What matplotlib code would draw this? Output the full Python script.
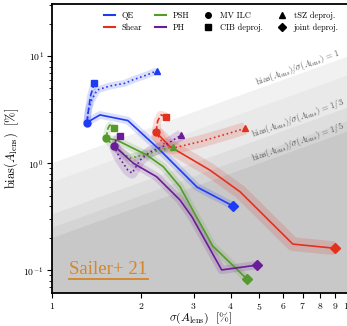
import matplotlib
matplotlib.use("Agg")
import matplotlib.pyplot as plt
from matplotlib.lines import Line2D
from matplotlib.ticker import NullLocator
import numpy as np

plt.rcParams['mathtext.fontset'] = 'cm'
plt.rcParams['font.family'] = 'serif'
plt.rcParams['font.serif'] = ['cmr10', 'DejaVu Serif']
plt.rcParams['axes.formatter.use_mathtext'] = True

# colours of the four estimators
c_qe = '#1f3cf5'
c_shear = '#e2321f'
c_psh = '#559a2c'
c_ph = '#6b1c98'

# QE: solid = MV ILC -> joint deproj., dashed = CIB deproj., dotted = tSZ deproj.
qe_x = [1.31, 1.45, 1.80, 2.31, 3.08, 4.07]
qe_y = [2.40, 2.83, 2.51, 1.33, 0.60, 0.40]
qe_cib_x = [1.31, 1.33, 1.35, 1.39]
qe_cib_y = [2.40, 3.29, 4.35, 5.59]
qe_tsz_x = [1.31, 1.325, 1.36, 1.42, 1.57, 1.76, 1.87, 2.09, 2.25]
qe_tsz_y = [2.40, 3.15, 3.91, 4.84, 5.28, 5.59, 6.01, 6.69, 7.29]

# Shear
sh_x = [2.24, 2.50, 3.40, 4.30, 6.48, 8.97]
sh_y = [1.95, 1.43, 0.866, 0.543, 0.176, 0.161]
sh_cib_x = [2.24, 2.27, 2.33, 2.43]
sh_cib_y = [1.95, 2.49, 2.83, 2.71]
sh_tsz_x = [2.24, 2.36, 2.56, 3.15, 3.98, 4.47]
sh_tsz_y = [1.95, 1.55, 1.39, 1.59, 1.92, 2.12]

# PSH
psh_x = [1.52, 1.65, 2.08, 2.37, 2.70, 2.98, 3.48, 4.54]
psh_y = [1.71, 1.65, 1.20, 0.93, 0.604, 0.366, 0.169, 0.083]
psh_cib_x = [1.52, 1.544, 1.567, 1.62]
psh_cib_y = [1.71, 2.13, 2.28, 2.12]
psh_tsz_x = [1.52, 1.67, 1.83, 2.06, 2.31, 2.56]
psh_tsz_y = [1.71, 1.33, 1.12, 1.20, 1.33, 1.43]

# PH
ph_x = [1.62, 1.88, 2.25, 2.70, 2.96, 3.73, 4.91]
ph_y = [1.46, 1.00, 0.75, 0.454, 0.317, 0.101, 0.112]
ph_cib_x = [1.62, 1.65, 1.70]
ph_cib_y = [1.46, 1.72, 1.80]
ph_tsz_x = [1.62, 1.69, 1.80, 1.86, 1.98, 2.14, 2.35, 2.73]
ph_tsz_y = [1.46, 1.12, 0.866, 0.81, 1.07, 1.28, 1.42, 1.84]

# bias/sigma bands
ratios = [1., 2./3., 1./3., 1./4., 1./5.]
band_cols = ['#f1f1f1', '#e9e9e9', '#dedede', '#d4d4d4', '#c8c8c8']
label_ratios = [1., 1./3., 1./5.]
label_txt = ['1', '1/3', '1/5']

fig = plt.figure(figsize=(3.47, 3.26), dpi=100)
ax = fig.add_axes([0.150, 0.101, 0.855, 0.887])
ax.set_xscale('log')
ax.set_yscale('log')
ax.set_xlim(1, 10)
ax.set_ylim(0.0614, 30.8)

xx = np.logspace(0, 1, 50)
for r, c in zip(ratios, band_cols):
    ax.fill_between(xx, 1e-3, r*xx, color=c, lw=0, zorder=0)

p1 = ax.transData.transform((2, 2))
p2 = ax.transData.transform((8, 8))
ang = np.degrees(np.arctan2(p2[1]-p1[1], p2[0]-p1[0]))
for r, t in zip(label_ratios, label_txt):
    ax.text(6.73, 1.17*r*6.73,
            r'$\mathrm{bias}(A_{\rm lens})/\sigma(A_{\rm lens})\,=\,%s$' % t,
            rotation=ang, ha='center', va='center', fontsize=6.2,
            color='#555555', zorder=1)

def curve(x, y, c, ls, w, m=None, m0=None):
    ax.plot(x, y, color=c, lw=w, alpha=0.16, solid_capstyle='butt',
            solid_joinstyle='round', zorder=2)
    ax.plot(x, y, color=c, lw=1.2, ls=ls, zorder=3)
    if m is not None:
        ax.plot(x[-1], y[-1], marker=m, color=c, ms=5, zorder=4)
    if m0 is not None:
        ax.plot(x[0], y[0], marker=m0, color=c, ms=5, zorder=4)

curve(qe_cib_x, qe_cib_y, c_qe, '--', 5, 's')
curve(qe_tsz_x, qe_tsz_y, c_qe, ':', 5, '^')
curve(qe_x, qe_y, c_qe, '-', 5.5, 'D', 'o')

curve(sh_cib_x, sh_cib_y, c_shear, '--', 6, 's')
curve(sh_tsz_x, sh_tsz_y, c_shear, ':', 9, '^')
curve(sh_x, sh_y, c_shear, '-', 10, 'D', 'o')

curve(psh_cib_x, psh_cib_y, c_psh, '--', 5, 's')
curve(psh_tsz_x, psh_tsz_y, c_psh, ':', 6, '^')
curve(psh_x, psh_y, c_psh, '-', 5.5, 'D', 'o')

curve(ph_cib_x, ph_cib_y, c_ph, '--', 5, 's')
curve(ph_tsz_x, ph_tsz_y, c_ph, ':', 8, '^')
curve(ph_x, ph_y, c_ph, '-', 6, 'D', 'o')

handles = [Line2D([], [], color=c_qe, lw=1.5, label='QE'),
           Line2D([], [], color=c_shear, lw=1.5, label='Shear'),
           Line2D([], [], color=c_psh, lw=1.5, label='PSH'),
           Line2D([], [], color=c_ph, lw=1.5, label='PH'),
           Line2D([], [], color='k', ls='', marker='o', ms=4, label='MV ILC'),
           Line2D([], [], color='k', ls='', marker='s', ms=4, label='CIB deproj.'),
           Line2D([], [], color='k', ls='', marker='^', ms=4, label='tSZ deproj.'),
           Line2D([], [], color='k', ls='', marker='D', ms=4, label='joint deproj.')]
ax.legend(handles=handles, ncol=4, loc='upper center', bbox_to_anchor=(0.57, 1.0),
          frameon=False, fontsize=6, handlelength=1.3, columnspacing=1.6,
          handletextpad=0.8, labelspacing=0.5)

ticks = [1, 2, 3, 4, 5, 6, 7, 8, 9, 10]
ax.set_xticks(ticks)
ax.set_xticklabels([r'$%d$' % t for t in ticks])
ax.xaxis.set_minor_locator(NullLocator())
ax.tick_params(labelsize=7, pad=2.5)
for s in ax.spines.values():
    s.set_linewidth(1.3)

ax.set_xlabel(r'$\sigma(A_{\rm lens})\ \ [\%]$', fontsize=8.5, labelpad=-1.5)
ax.set_ylabel(r'$\mathrm{bias}(A_{\rm lens})\ \ [\%]$', fontsize=9, labelpad=2)

ax.text(0.058, 0.065, 'Sailer+ 21', transform=ax.transAxes, fontsize=13.5,
        family='Liberation Serif', color='#d4862a', zorder=5)
ax.plot([0.058, 0.322], [0.048, 0.048], transform=ax.transAxes, color='#d4862a',
        lw=1.3, zorder=5)

fig.savefig('out.png', dpi=100)
